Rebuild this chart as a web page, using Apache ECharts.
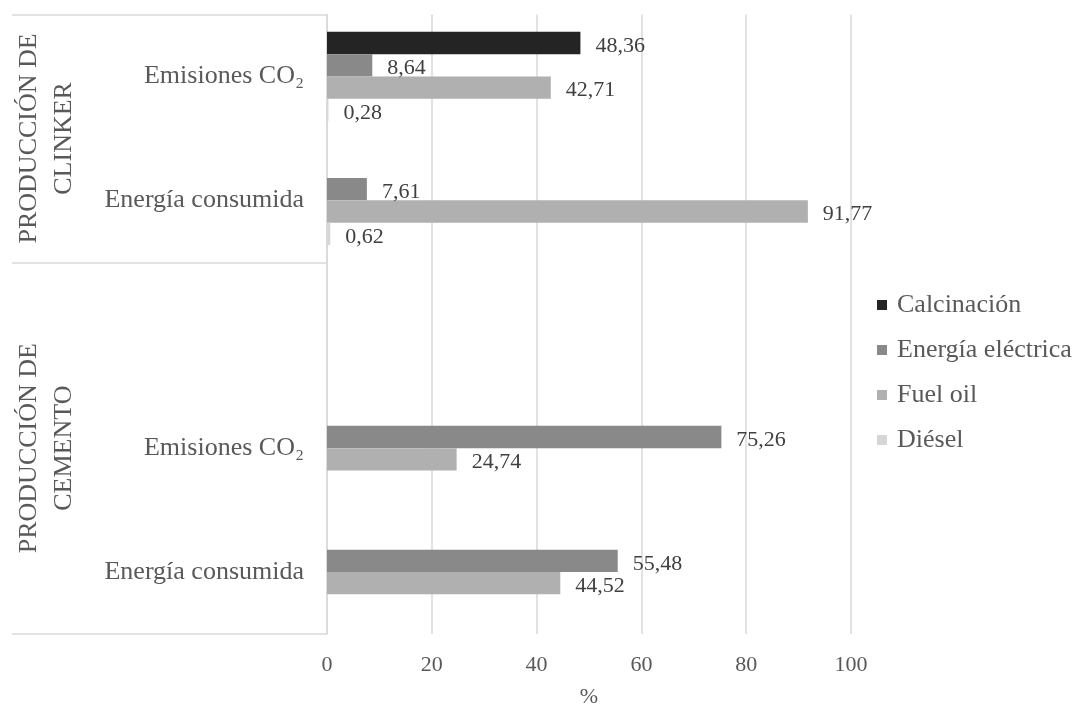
<!DOCTYPE html>
<html>
<head>
<meta charset="utf-8">
<script src="https://cdn.jsdelivr.net/npm/echarts@6/dist/echarts.min.js"></script>
<style>
  html, body { margin: 0; padding: 0; background: #ffffff; }
  #chart { width: 1078px; height: 708px; }
</style>
</head>
<body>
<div id="chart"></div>
<script>
// Row labels, top to bottom (the empty row separates the two production stages)
const categories = ['Emisiones CO₂', 'Energía consumida', '', 'Emisiones CO₂', 'Energía consumida'];

// Production stages and how many rows each one spans
const groupNames = ['PRODUCCIÓN DE\nCLINKER', 'PRODUCCIÓN DE\nCEMENTO'];
const groupSpans = [2, 3];

// Share of each source, in %
const seriesNames = ['Calcinación', 'Energía eléctrica', 'Fuel oil', 'Diésel'];
const calcinacion = [48.36, null, null, null, null];
const energiaElectrica = [8.64, 7.61, null, 75.26, 55.48];
const fuelOil = [42.71, 91.77, null, 24.74, 44.52];
const diesel = [0.28, 0.62, null, null, null];

const xTicks = [0, 20, 40, 60, 80, 100];

const colors = ['#242424', '#898989', '#b0b0b0', '#d6d6d6'];
const FONT = "'Liberation Serif', 'Times New Roman', serif";
const GRID_COLOR = '#d9d9d9';

// Group boundaries and centres, in row units
const groupEdges = [0];
groupSpans.forEach(s => groupEdges.push(groupEdges[groupEdges.length - 1] + s));
const groupCenters = groupSpans.map((s, i) => groupEdges[i] + s / 2);

const seriesValues = [calcinacion, energiaElectrica, fuelOil, diesel];

const chart = echarts.init(document.getElementById('chart'), null, { renderer: 'canvas' });

chart.setOption({
  animation: false,
  backgroundColor: '#ffffff',
  textStyle: { fontFamily: FONT },
  grid: { left: 327, right: 227, top: 14.5, bottom: 74, containLabel: false, outerBoundsMode: 'none' },
  legend: {
    orient: 'vertical',
    left: 872,
    top: 285,
    icon: 'rect',
    itemWidth: 10,
    itemHeight: 10,
    itemGap: 15,
    data: seriesNames,
    textStyle: { fontFamily: FONT, fontSize: 26, lineHeight: 30, color: '#595959', padding: [0, 0, 0, 5] }
  },
  xAxis: {
    type: 'value',
    min: xTicks[0],
    max: xTicks[xTicks.length - 1],
    interval: xTicks[1] - xTicks[0],
    name: '%',
    nameLocation: 'middle',
    nameGap: 52,
    nameTextStyle: { fontFamily: FONT, fontSize: 22, color: '#595959' },
    axisLine: { show: false },
    axisTick: { show: false },
    axisLabel: { fontFamily: FONT, fontSize: 22, color: '#595959', margin: 20 },
    splitLine: { show: true, lineStyle: { color: GRID_COLOR, width: 1.5 } }
  },
  yAxis: [
    {
      type: 'category',
      inverse: true,
      data: categories,
      position: 'left',
      axisLine: { show: true, lineStyle: { color: GRID_COLOR, width: 1.5 } },
      axisTick: { show: false },
      axisLabel: { fontFamily: FONT, fontSize: 26, color: '#595959', margin: 23 },
      splitLine: { show: false }
    },
    {
      // Stage axis: long ticks fence each stage, rotated labels name it
      type: 'value',
      inverse: true,
      min: 0,
      max: categories.length,
      position: 'left',
      axisLine: { show: false },
      splitLine: { show: false },
      axisTick: {
        show: true,
        customValues: groupEdges,
        length: 315,
        lineStyle: { color: GRID_COLOR, width: 1.5 }
      },
      axisLabel: {
        show: true,
        customValues: groupCenters,
        rotate: 90,
        margin: 245,
        fontFamily: FONT,
        fontSize: 26,
        lineHeight: 35,
        color: '#595959',
        formatter: function (v) {
          const i = groupCenters.indexOf(v);
          return i >= 0 ? groupNames[i] : '';
        }
      }
    }
  ],
  series: seriesNames.map((name, i) => ({
    name: name,
    type: 'bar',
    yAxisIndex: 0,
    data: seriesValues[i],
    barGap: '0%',
    barCategoryGap: '28%',
    itemStyle: { color: colors[i] },
    label: {
      show: true,
      position: 'right',
      distance: 15,
      offset: [0, 3],
      fontFamily: FONT,
      fontSize: 22,
      color: '#404040',
      formatter: p => (p.value == null ? '' : p.value.toFixed(2).replace('.', ','))
    }
  }))
});
</script>
</body>
</html>
